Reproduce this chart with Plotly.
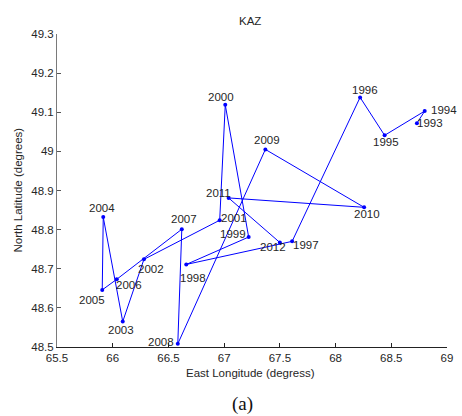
import plotly.graph_objects as go

# ---- data ----
years = [1993, 1994, 1995, 1996, 1997, 1998, 1999, 2000, 2001, 2002,
         2003, 2004, 2005, 2006, 2007, 2008, 2009, 2010, 2011, 2012]
lon = [68.73, 68.80, 68.44, 68.22, 67.61, 66.66, 67.22, 67.01, 66.96, 66.28,
       66.09, 65.915, 65.906, 66.036, 66.62, 66.584, 67.37, 68.256, 67.04, 67.50]
lat = [49.072, 49.103, 49.041, 49.138, 48.770, 48.711, 48.781, 49.119, 48.824, 48.724,
       48.565, 48.832, 48.646, 48.673, 48.801, 48.508, 49.005, 48.857, 48.881, 48.767]

x_ticks = [65.5, 66, 66.5, 67, 67.5, 68, 68.5, 69]
x_tick_text = ["65.5", "66", "66.5", "67", "67.5", "68", "68.5", "69"]
y_ticks = [48.5, 48.6, 48.7, 48.8, 48.9, 49.0, 49.1, 49.2, 49.3]
y_tick_text = ["48.5", "48.6", "48.7", "48.8", "48.9", "49", "49.1", "49.2", "49.3"]

# label offsets in pixels (dx right, dy down) - styling only
label_offsets = {
    1993: (13, 0), 1994: (19, -1), 1995: (1, 7), 1996: (5, -7),
    1997: (14, 4), 1998: (7, 14), 1999: (-16, -3), 2000: (-4, -8),
    2001: (14, -2), 2002: (7, 10), 2003: (-2, 8), 2004: (-1, -9),
    2005: (-10, 10), 2006: (12, 6), 2007: (2, -10), 2008: (-17, -2),
    2009: (2, -9), 2010: (3, 7), 2011: (-10, -5), 2012: (-7, 4),
}

FONT = "Liberation Sans, Arial, sans-serif"
TXT = "#262626"

fig = go.Figure()
fig.add_trace(go.Scatter(
    x=lon, y=lat, mode="lines+markers",
    line=dict(color="#0000ff", width=1),
    marker=dict(color="#0000ff", size=4),
    hoverinfo="skip", showlegend=False,
))

annotations = []
for yr, xv, yv in zip(years, lon, lat):
    dx, dy = label_offsets[yr]
    annotations.append(dict(
        x=xv, y=yv, xref="x", yref="y", text=str(yr), showarrow=False,
        xshift=dx, yshift=-dy, xanchor="center", yanchor="middle",
        font=dict(family=FONT, size=11.5, color=TXT),
    ))

# title
annotations.append(dict(x=0.5, y=1, xref="paper", yref="paper", text="KAZ",
                        showarrow=False, xanchor="center", yanchor="middle",
                        xshift=-2, yshift=13,
                        font=dict(family=FONT, size=11.5, color=TXT)))
# x axis title
annotations.append(dict(x=0.5, y=0, xref="paper", yref="paper",
                        text="East Longitude (degress)", showarrow=False,
                        xanchor="center", yanchor="middle", xshift=-2, yshift=-26,
                        font=dict(family=FONT, size=11.5, color=TXT)))
# y axis title
annotations.append(dict(x=0, y=0.5, xref="paper", yref="paper",
                        text="North Latitude (degrees)", showarrow=False,
                        textangle=-90, xanchor="center", yanchor="middle",
                        xshift=-40, yshift=0,
                        font=dict(family=FONT, size=11.5, color=TXT)))
# caption
annotations.append(dict(x=0.5, y=0, xref="paper", yref="paper",
                        text="(a)", showarrow=False,
                        xanchor="center", yanchor="middle", xshift=-10, yshift=-57,
                        font=dict(family="Liberation Serif, Times New Roman, serif",
                                  size=19, color="#111111")))

fig.update_layout(
    width=462, height=416,
    margin=dict(l=57, r=9, t=34, b=69),
    paper_bgcolor="white", plot_bgcolor="white",
    annotations=annotations,
    font=dict(family=FONT, size=11.5, color=TXT),
    xaxis=dict(range=[65.5, 69], tickvals=x_ticks, ticktext=x_tick_text,
               ticks="inside", ticklen=4, tickcolor="#222222",
               showline=True, linecolor="#222222", linewidth=1,
               showgrid=False, zeroline=False, mirror=False,
               tickfont=dict(family=FONT, size=11.5, color=TXT)),
    yaxis=dict(range=[48.5, 49.3], tickvals=y_ticks, ticktext=y_tick_text,
               ticks="inside", ticklen=4, tickcolor="#555555",
               showline=True, linecolor="#7a7a7a", linewidth=1,
               showgrid=False, zeroline=False, mirror=False,
               tickfont=dict(family=FONT, size=11.5, color=TXT)),
)

# remove the browser's default 8px body margin so the figure fills the window
fig.write_html("out.html",
               config={"displayModeBar": False},
               post_script="document.body.style.margin='0';document.body.style.overflow='hidden';")
